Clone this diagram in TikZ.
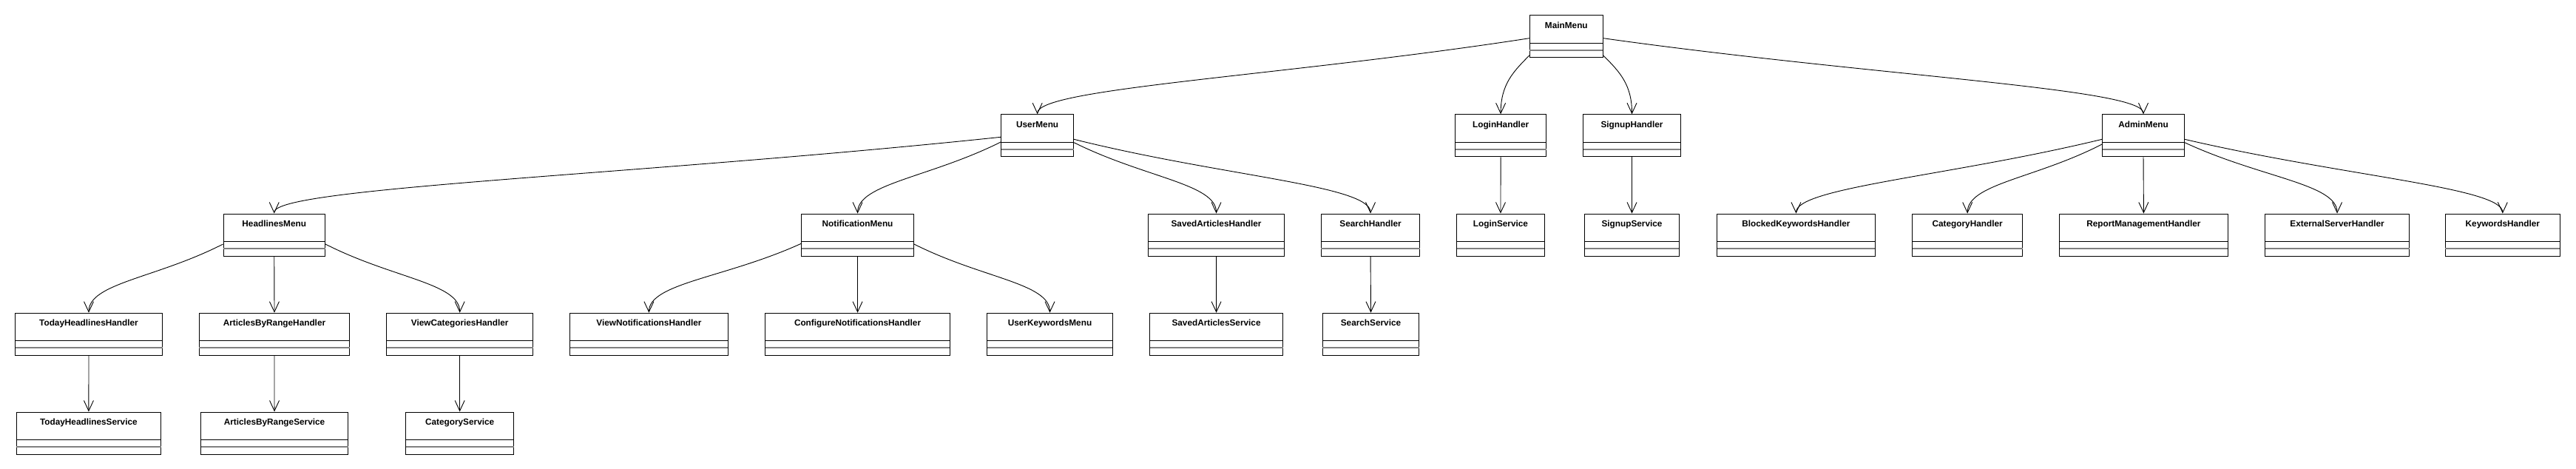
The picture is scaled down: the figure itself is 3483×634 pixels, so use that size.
\documentclass[tikz,border=0pt]{standalone}
\usepackage{fontspec}
\setmainfont{Liberation Sans}
\usetikzlibrary{arrows.meta,calc}
\newcommand\umlcls[5]{%
  \node[clsbox, minimum width={(#3)-(#2)}] (#1) at ({((#2)+(#3))/2},#4) {};
  \draw[gapline] ($(#1.north west)+(0.5,47.7)$) -- ($(#1.north east)+(-0.5,47.7)$);
  \draw[sepline] ($(#1.north west)+(0,38)$) -- ($(#1.north east)+(0,38)$);
  \node[clsname] (#1-name) at ($(#1.north)+(0,18)$) {#5};
}
\newcommand\umllink[3]{%
  \draw[arr] (#1) .. controls ($(#1)!0.5!(#2)$) and ($(#2)+(0,-#3)$) .. (#2);
}
\begin{document}
\begin{tikzpicture}[x=1pt,y=-1pt,
  clsbox/.style={draw=black, line width=1pt, fill=white, anchor=north, minimum height=57pt, inner sep=0pt},
  clsname/.style={font=\fontsize{11.8}{14}\selectfont\bfseries, inner sep=0pt, anchor=base},
  sepline/.style={black, line width=1pt},
  gapline/.style={draw=gray, line width=2pt},
  arr/.style={-{Straight Barb[length=14pt,width=13pt]}, line width=0.9pt, black}]
\useasboundingbox (0,0) rectangle (3483,634);

% row 1
\umlcls{mm}{2068.3}{2167.3}{20.3}{MainMenu}
% row 2
\umlcls{um}{1353.7}{1451.6}{154.3}{UserMenu}
\umlcls{lh}{1967.7}{2090.5}{154.3}{LoginHandler}
\umlcls{sh}{2140.7}{2272.3}{154.3}{SignupHandler}
\umlcls{am}{2842.6}{2953.4}{154.3}{AdminMenu}
% row 3
\umlcls{hm}{302.0}{439.5}{288.5}{HeadlinesMenu}
\umlcls{nm}{1083.7}{1235.4}{288.5}{NotificationMenu}
\umlcls{sah}{1552.7}{1736.4}{288.5}{SavedArticlesHandler}
\umlcls{srh}{1786.4}{1919.7}{288.5}{SearchHandler}
\umlcls{ls}{1969.6}{2088.3}{288.5}{LoginService}
\umlcls{ss}{2142.6}{2270.4}{288.5}{SignupService}
\umlcls{bkh}{2321.6}{2535.3}{288.5}{BlockedKeywordsHandler}
\umlcls{ch}{2585.7}{2734.6}{288.5}{CategoryHandler}
\umlcls{rmh}{2784.5}{3012.3}{288.5}{ReportManagementHandler}
\umlcls{esh}{3062.5}{3257.6}{288.5}{ExternalServerHandler}
\umlcls{kh}{3306.3}{3461.3}{288.5}{KeywordsHandler}
% row 4
\umlcls{thh}{20.5}{219.5}{422.7}{TodayHeadlinesHandler}
\umlcls{abrh}{269.4}{472.6}{422.7}{ArticlesByRangeHandler}
\umlcls{vch}{522.5}{720.8}{422.7}{ViewCategoriesHandler}
\umlcls{vnh}{770.5}{984.3}{422.7}{ViewNotificationsHandler}
\umlcls{cnh}{1034.7}{1284.4}{422.7}{ConfigureNotificationsHandler}
\umlcls{ukm}{1334.8}{1504.2}{422.7}{UserKeywordsMenu}
\umlcls{sas}{1554.6}{1734.5}{422.7}{SavedArticlesService}
\umlcls{srs}{1788.3}{1918.7}{422.7}{SearchService}
% row 5
\umlcls{ths}{22.3}{217.5}{556.5}{TodayHeadlinesService}
\umlcls{abrs}{271.6}{470.5}{556.5}{ArticlesByRangeService}
\umlcls{cs}{548.7}{694.6}{556.5}{CategoryService}

% start points of curved connectors
\coordinate (mm-l) at ($(mm.north west)+(0,31.4)$);
\coordinate (mm-r) at ($(mm.north east)+(0,31.4)$);
\coordinate (mm-bl) at ($(mm.north west)+(0,54.7)$);
\coordinate (mm-br) at ($(mm.north east)+(0,54.7)$);
\coordinate (um-l1) at ($(um.north west)+(0,31)$);
\coordinate (um-l2) at ($(um.north west)+(0,37.7)$);
\coordinate (um-r1) at ($(um.north east)+(0,34)$);
\coordinate (um-r2) at ($(um.north east)+(0,38.4)$);
\coordinate (hm-l) at ($(hm.north west)+(0,41.5)$);
\coordinate (hm-r) at ($(hm.north east)+(0,41.5)$);
\coordinate (nm-l) at ($(nm.north west)+(0,40.8)$);
\coordinate (nm-r) at ($(nm.north east)+(0,41.5)$);
\coordinate (am-l1) at ($(am.north west)+(0,34)$);
\coordinate (am-l2) at ($(am.north west)+(0,40.7)$);
\coordinate (am-r1) at ($(am.north east)+(0,34)$);
\coordinate (am-r2) at ($(am.north east)+(0,38.4)$);

% MainMenu
\umllink{mm-l}{um.north}{35}
\umllink{mm-r}{am.north}{35}
\draw[arr] (mm-bl) .. controls ($(mm-bl)+(-22,22)$) and ($(lh.north)+(0,-40)$) .. (lh.north);
\draw[arr] (mm-br) .. controls ($(mm-br)+(22,22)$) and ($(sh.north)+(0,-40)$) .. (sh.north);
% UserMenu
\umllink{um-l1}{hm.north}{35}
\umllink{um-l2}{nm.north}{40}
\umllink{um-r2}{sah.north}{40}
\umllink{um-r1}{srh.north}{38}
% HeadlinesMenu
\umllink{hm-l}{thh.north}{40}
\draw[arr] (hm.south) -- (abrh.north);
\umllink{hm-r}{vch.north}{40}
% NotificationMenu
\umllink{nm-l}{vnh.north}{40}
\draw[arr] (nm.south) -- (cnh.north);
\umllink{nm-r}{ukm.north}{40}
% AdminMenu
\umllink{am-l1}{bkh.north}{35}
\umllink{am-l2}{ch.north}{40}
\draw[arr] (am.south) -- (rmh.north);
\umllink{am-r2}{esh.north}{40}
\umllink{am-r1}{kh.north}{35}
% handlers to services
\draw[arr] (lh.south) -- (ls.north);
\draw[arr] (sh.south) -- (ss.north);
\draw[arr] (sah.south) -- (sas.north);
\draw[arr] (srh.south) -- (srs.north);
\draw[arr] (thh.south) -- (ths.north);
\draw[arr] (abrh.south) -- (abrs.north);
\draw[arr] (vch.south) -- (cs.north);
\end{tikzpicture}
\end{document}
